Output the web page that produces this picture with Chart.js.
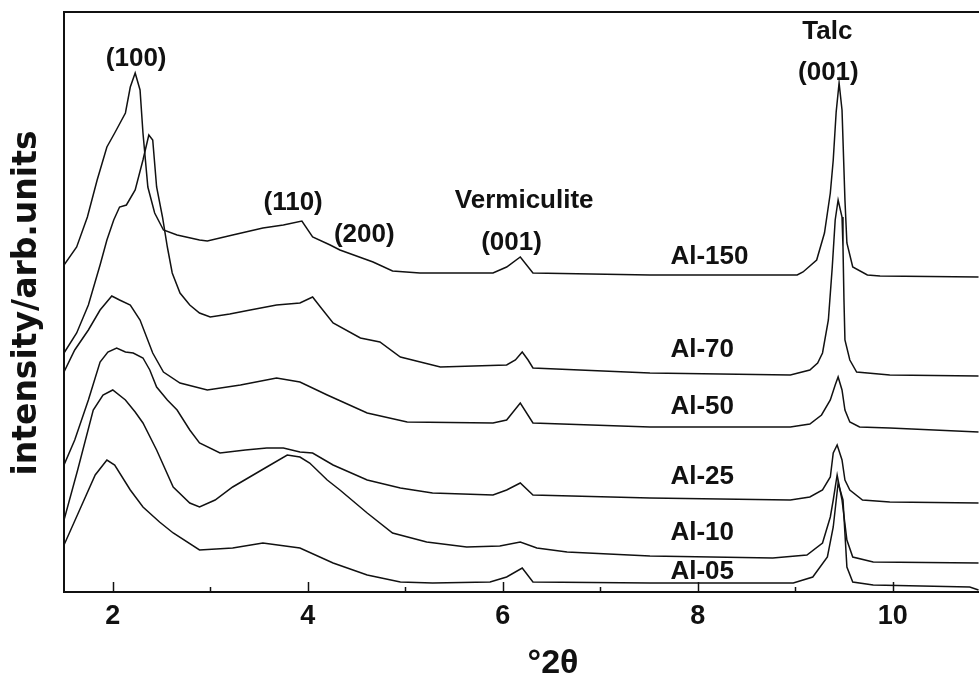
<!DOCTYPE html>
<html>
<head>
<meta charset="utf-8">
<script src="https://cdn.jsdelivr.net/npm/chart.js@4.4.0/dist/chart.umd.min.js"></script>
<style>
  html, body { margin: 0; padding: 0; background: #fff; }
  #xrd { display: block; }
</style>
</head>
<body>
<canvas id="xrd" width="979" height="682"></canvas>
<script>
// x = degrees 2theta, y = intensity (arb. units, curves stacked with offset)
const al150X = [1.50, 1.63, 1.74, 1.84, 1.94, 2.02, 2.13, 2.18, 2.23, 2.28, 2.31, 2.36, 2.43, 2.52, 2.66, 2.89, 2.97, 3.23, 3.54, 3.75, 3.94, 4.05, 4.23, 4.33, 4.67, 4.87, 5.15, 5.90, 6.04, 6.18, 6.31, 7.51, 8.77, 9.02, 9.08, 9.22, 9.30, 9.36, 9.39, 9.42, 9.45, 9.48, 9.51, 9.53, 9.59, 9.74, 9.87, 10.88];
const al150Y = [327, 345, 375, 412, 445, 459, 479, 505, 519, 502, 459, 405, 379, 362, 357, 352, 351, 357, 364, 367, 371, 355, 347, 342, 330, 321, 319, 319, 325, 335, 319, 317, 317, 317, 320, 332, 359, 399, 432, 480, 509, 482, 392, 349, 325, 317, 316, 315];

const al70X = [1.50, 1.63, 1.75, 1.87, 1.94, 2.01, 2.07, 2.14, 2.23, 2.31, 2.37, 2.41, 2.45, 2.51, 2.56, 2.61, 2.69, 2.79, 2.89, 3.00, 3.20, 3.41, 3.68, 3.92, 4.05, 4.13, 4.26, 4.54, 4.74, 4.95, 5.36, 6.04, 6.13, 6.20, 6.26, 6.31, 7.51, 8.95, 9.15, 9.23, 9.28, 9.34, 9.38, 9.41, 9.44, 9.48, 9.49, 9.50, 9.51, 9.56, 9.63, 9.97, 10.88];
const al70Y = [239, 259, 287, 327, 352, 372, 385, 387, 402, 432, 457, 452, 405, 375, 345, 319, 299, 287, 279, 275, 278, 282, 287, 289, 295, 285, 269, 254, 250, 235, 225, 227, 232, 240, 232, 224, 219, 217, 222, 229, 239, 272, 325, 372, 392, 375, 345, 292, 252, 232, 220, 217, 216];

const al50X = [1.50, 1.61, 1.75, 1.87, 1.99, 2.07, 2.18, 2.28, 2.41, 2.52, 2.69, 2.97, 3.31, 3.68, 3.92, 4.20, 4.61, 5.02, 5.90, 6.04, 6.18, 6.31, 7.51, 8.95, 9.15, 9.27, 9.36, 9.41, 9.44, 9.48, 9.51, 9.56, 9.66, 9.97, 10.88];
const al50Y = [220, 242, 262, 282, 296, 292, 287, 272, 239, 220, 209, 202, 207, 214, 210, 197, 179, 170, 169, 172, 189, 169, 165, 165, 168, 177, 192, 207, 215, 202, 182, 170, 165, 164, 160];

const al25X = [1.50, 1.61, 1.75, 1.87, 1.95, 2.04, 2.13, 2.21, 2.31, 2.38, 2.45, 2.56, 2.66, 2.79, 2.89, 3.10, 3.36, 3.58, 3.75, 3.92, 4.05, 4.26, 4.61, 4.95, 5.28, 5.90, 6.04, 6.18, 6.31, 7.51, 8.95, 9.15, 9.28, 9.36, 9.39, 9.43, 9.48, 9.51, 9.56, 9.69, 9.97, 10.88];
const al25Y = [127, 152, 192, 230, 240, 244, 240, 239, 234, 222, 205, 192, 182, 162, 149, 139, 142, 144, 144, 140, 139, 127, 112, 104, 99, 97, 102, 109, 97, 94, 92, 95, 102, 115, 139, 147, 132, 112, 102, 92, 90, 89];

const al10X = [1.50, 1.64, 1.80, 1.90, 2.00, 2.13, 2.23, 2.31, 2.45, 2.62, 2.79, 2.89, 3.05, 3.23, 3.58, 3.79, 3.92, 4.02, 4.20, 4.33, 4.61, 4.87, 5.22, 5.63, 5.97, 6.18, 6.35, 6.66, 7.51, 8.77, 9.12, 9.28, 9.36, 9.39, 9.43, 9.48, 9.53, 9.59, 9.80, 10.88];
const al10Y = [72, 122, 182, 197, 202, 192, 180, 169, 142, 105, 89, 85, 92, 105, 125, 137, 135, 129, 112, 102, 79, 59, 50, 45, 46, 50, 44, 40, 36, 34, 37, 49, 75, 92, 117, 92, 52, 35, 30, 29];

const al05X = [1.50, 1.66, 1.82, 1.94, 2.02, 2.18, 2.31, 2.48, 2.62, 2.89, 3.23, 3.54, 3.92, 4.26, 4.61, 4.95, 5.28, 5.87, 6.04, 6.20, 6.31, 7.51, 8.98, 9.18, 9.33, 9.39, 9.44, 9.49, 9.53, 9.59, 9.80, 10.79, 10.88];
const al05Y = [47, 82, 117, 132, 127, 102, 85, 70, 59, 42, 44, 49, 44, 29, 17, 10, 9, 10, 15, 24, 10, 9, 9, 15, 35, 65, 109, 92, 25, 10, 7, 5, 2];

const seriesNames = ['Al-150', 'Al-70', 'Al-50', 'Al-25', 'Al-10', 'Al-05'];
const seriesX = [al150X, al70X, al50X, al25X, al10X, al05X];
const seriesY = [al150Y, al70Y, al50Y, al25Y, al10Y, al05Y];

const xMin = 1.5;
const xMax = 10.885;
const yMin = 0;
const yMax = 580;
const majorTicks = [2, 4, 6, 8, 10];
const minorTicks = [3, 5, 7, 9];

// annotation texts: [text, x (2theta), y (intensity)] at text centre
const peakLabels = [
  ['(100)', 2.24, 533],
  ['(110)', 3.85, 389],
  ['(200)', 4.58, 357],
  ['Vermiculite', 6.22, 391],
  ['(001)', 6.09, 349],
  ['Talc', 9.33, 560],
  ['(001)', 9.34, 519]
];
// sample labels: [text, x left (2theta), y (intensity)]
const sampleLabels = [
  ['Al-150', 7.72, 335],
  ['Al-70', 7.72, 242],
  ['Al-50', 7.72, 185],
  ['Al-25', 7.72, 115],
  ['Al-10', 7.72, 59],
  ['Al-05', 7.72, 20]
];

const annFont = 'bold 26px "Liberation Sans", Arial, sans-serif';

const datasets = seriesNames.map((name, i) => ({
  label: name,
  data: seriesX[i].map((x, j) => ({ x: x, y: seriesY[i][j] })),
  borderColor: '#111',
  borderWidth: 1.5,
  pointRadius: 0,
  fill: false,
  tension: 0,
}));

const decorPlugin = {
  id: 'decor',
  afterDatasetsDraw(chart) {
    const ctx = chart.ctx;
    const xs = chart.scales.x;
    const ys = chart.scales.y;
    const area = chart.chartArea;
    ctx.save();
    ctx.strokeStyle = '#111';
    ctx.lineWidth = 2;
    // top frame line
    ctx.beginPath();
    ctx.moveTo(area.left, area.top);
    ctx.lineTo(area.right, area.top);
    ctx.stroke();
    // inward ticks
    ctx.lineWidth = 1.5;
    majorTicks.forEach((v) => {
      const px = Math.round(xs.getPixelForValue(v)) + 0.5;
      ctx.beginPath();
      ctx.moveTo(px, area.bottom);
      ctx.lineTo(px, area.bottom - 10);
      ctx.stroke();
    });
    minorTicks.forEach((v) => {
      const px = Math.round(xs.getPixelForValue(v)) + 0.5;
      ctx.beginPath();
      ctx.moveTo(px, area.bottom);
      ctx.lineTo(px, area.bottom - 5);
      ctx.stroke();
    });
    // peak labels
    ctx.fillStyle = '#111';
    ctx.font = annFont;
    ctx.textAlign = 'center';
    ctx.textBaseline = 'middle';
    peakLabels.forEach(([t, x, y]) => {
      ctx.fillText(t, xs.getPixelForValue(x), ys.getPixelForValue(y));
    });
    ctx.textAlign = 'left';
    sampleLabels.forEach(([t, x, y]) => {
      ctx.fillText(t, xs.getPixelForValue(x), ys.getPixelForValue(y));
    });
    // axis titles
    ctx.textAlign = 'center';
    ctx.font = 'bold 34px "Liberation Sans", Arial, sans-serif';
    ctx.fillText('\u00b02\u03b8', 553, 664);
    ctx.translate(27, 303);
    ctx.rotate(-Math.PI / 2);
    ctx.font = 'bold 33px "DejaVu Sans", sans-serif';
    ctx.fillText('intensity/arb.units', 0, 0);
    ctx.restore();
  }
};

new Chart(document.getElementById('xrd'), {
  type: 'line',
  data: { datasets: datasets },
  options: {
    responsive: false,
    animation: false,
    parsing: false,
    layout: { padding: { left: 64, top: 12, right: 0, bottom: 0 } },
    plugins: {
      legend: { display: false },
      tooltip: { enabled: false },
    },
    scales: {
      x: {
        type: 'linear',
        min: xMin,
        max: xMax,
        grid: { display: false },
        border: { display: true, color: '#111', width: 2 },
        ticks: {
          padding: 0,
          autoSkip: false,
          maxRotation: 0,
          color: '#111',
          font: { family: '"Liberation Sans", Arial, sans-serif', size: 27, weight: 'bold' },
          callback: (v) => String(v),
        },
        afterBuildTicks: (scale) => { scale.ticks = majorTicks.map((v) => ({ value: v })); },
        afterFit: (scale) => { scale.height = 90; },
      },
      y: {
        type: 'linear',
        min: yMin,
        max: yMax,
        grid: { display: false },
        border: { display: true, color: '#111', width: 2 },
        ticks: { display: false },
        afterFit: (scale) => { scale.width = 0; },
      },
    },
  },
  plugins: [decorPlugin],
});
</script>
</body>
</html>
